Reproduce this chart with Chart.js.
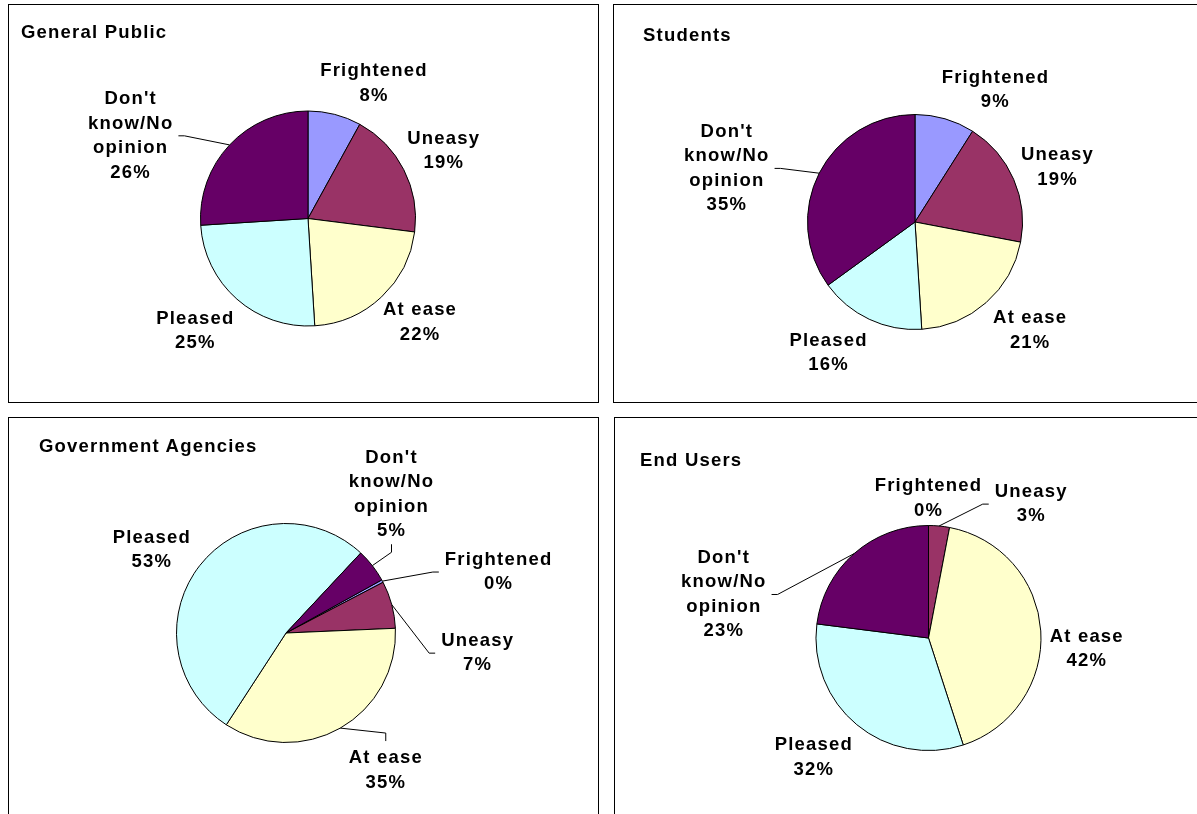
<!DOCTYPE html>
<html>
<head>
<meta charset="utf-8">
<script src="https://cdn.jsdelivr.net/npm/chart.js@4.4.0/dist/chart.umd.min.js"></script>
<style>
body { margin: 0; background: #fff; width: 1197px; height: 814px; overflow: hidden; position: relative; font-family: "Liberation Sans", Arial, sans-serif; }
.panel { position: absolute; border: 1px solid #000; box-sizing: border-box; }
.title { position: absolute; font-weight: bold; font-size: 18.5px; line-height: 20px; letter-spacing: 1.2px; white-space: nowrap; color: #000; }
canvas { position: absolute; }
</style>
</head>
<body>
<script>
// categories and values (percent)
var categories = ['Frightened', 'Uneasy', 'At ease', 'Pleased', "Don't know/No opinion"];
var generalPublic = [8, 19, 22, 25, 26];
var students = [9, 19, 21, 16, 35];
var governmentAgencies = [0.4, 7, 35, 53, 5];   // frightened shows as a thin sliver, labelled 0%
var endUsers = [0, 3, 42, 32, 23];
var titles = ['General Public', 'Students', 'Government Agencies', 'End Users'];
var sliceColors = ['#9999FF', '#993366', '#FFFFCC', '#CCFFFF', '#660066'];

var LABEL_FONT = 'bold 18.5px "Liberation Sans", Arial, sans-serif';
var LINE = 24.5;

// layout: panel box, pie centre/radius, rotation, label placement [angle from north, radius factor, leader side]
var panels = [
    { values: generalPublic, box: [8, 4, 591, 399], cx: 308, cy: 218.5, r: 108, rotation: 0, title: [21, 21.5],
      labels: [[26, 1.40], [63.6, 1.41], [132.8, 1.42], [225.1, 1.48], [295, 1.82, 'r']] },
    { values: students, box: [613, 4, 700, 399], cx: 915, cy: 222, r: 108, rotation: 0, title: [643, 25],
      labels: [[31.3, 1.44], [69, 1.42], [133.2, 1.47], [213.4, 1.46], [285.9, 1.82, 'r']] },
    { values: governmentAgencies, box: [8, 417, 591, 500], cx: 286, cy: 633, r: 110, rotation: 61, title: [39, 435.5],
      labels: [[74, 2.02, 'l'], [96, 1.76, 'l'], [144, 1.55, 't'], [301.7, 1.44], [37.3, 1.59, 'b']] },
    { values: endUsers, box: [614, 417, 700, 500], cx: 928.5, cy: 638, r: 113, rotation: 0, title: [640, 450],
      labels: [[0, 1.24], [37.5, 1.5, 'l'], [94, 1.41], [223.9, 1.47], [282, 1.86, 'r']] }
];

function wrapText(ctx, text, maxWidth) {
    var words = text.split(' ');
    var lines = [];
    var cur = '';
    words.forEach(function (w) {
        var test = cur ? cur + ' ' + w : w;
        if (cur && ctx.measureText(test).width > maxWidth) {
            lines.push(cur);
            cur = w;
        } else {
            cur = test;
        }
    });
    if (cur) lines.push(cur);
    return lines;
}

function drawLabels(chart, layout) {
    var ctx = chart.ctx;
    var arcs = chart.getDatasetMeta(0).data;
    var values = chart.data.datasets[0].data;
    ctx.save();
    ctx.font = LABEL_FONT;
    ctx.letterSpacing = '1.2px';
    ctx.fillStyle = '#000';
    ctx.strokeStyle = '#000';
    ctx.lineWidth = 1;
    ctx.textAlign = 'center';
    ctx.textBaseline = 'middle';
    arcs.forEach(function (arc, i) {
        var L = layout[i];
        var a = (L[0] - 90) * Math.PI / 180;
        var x = arc.x + Math.cos(a) * arc.outerRadius * L[1];
        var y = arc.y + Math.sin(a) * arc.outerRadius * L[1];
        var lines = wrapText(ctx, chart.data.labels[i], 90).concat([Math.round(values[i]) + '%']);
        var w = 0;
        lines.forEach(function (t) { w = Math.max(w, ctx.measureText(t).width); });
        var first = y - (lines.length - 1) * LINE / 2;
        lines.forEach(function (t, k) { ctx.fillText(t, x, first + k * LINE); });

        if (L[2]) {
            // leader line from the slice edge to the label
            var mid = (arc.startAngle + arc.endAngle) / 2;
            var ex = arc.x + Math.cos(mid) * arc.outerRadius;
            var ey = arc.y + Math.sin(mid) * arc.outerRadius;
            var end, elbow;
            if (L[2] === 'l') {
                end = [x - w / 2 - 6, y]; elbow = [end[0] - 6, y];
            } else if (L[2] === 'r') {
                end = [x + w / 2 + 5, y]; elbow = [end[0] + 6, y];
            } else if (L[2] === 't') {
                end = [x, first - 9 - 8]; elbow = [x, end[1] - 8];
            } else {
                end = [x, first + (lines.length - 1) * LINE + 9 + 4]; elbow = [x, end[1] + 8];
            }
            ctx.beginPath();
            ctx.moveTo(ex, ey);
            ctx.lineTo(elbow[0], elbow[1]);
            ctx.lineTo(end[0], end[1]);
            ctx.stroke();
        }
    });
    ctx.restore();
}

panels.forEach(function (p, n) {
    var div = document.createElement('div');
    div.className = 'panel';
    div.style.left = p.box[0] + 'px';
    div.style.top = p.box[1] + 'px';
    div.style.width = p.box[2] + 'px';
    div.style.height = p.box[3] + 'px';
    document.body.appendChild(div);

    // canvas covers the inside of the panel (clipped to the page)
    var x0 = p.box[0] + 1, y0 = p.box[1] + 1;
    var w = Math.min(p.box[2] - 2, 1197 - x0);
    var h = Math.min(p.box[3] - 2, 814 - y0);
    var canvas = document.createElement('canvas');
    canvas.width = w;
    canvas.height = h;
    canvas.style.left = x0 + 'px';
    canvas.style.top = y0 + 'px';
    document.body.appendChild(canvas);

    var t = document.createElement('div');
    t.className = 'title';
    t.textContent = titles[n];
    t.style.left = p.title[0] + 'px';
    t.style.top = p.title[1] + 'px';
    document.body.appendChild(t);

    new Chart(canvas, {
        type: 'pie',
        data: {
            labels: categories,
            datasets: [{
                data: p.values,
                backgroundColor: sliceColors,
                borderColor: '#000',
                borderWidth: 1
            }]
        },
        options: {
            responsive: false,
            animation: false,
            devicePixelRatio: 1,
            rotation: p.rotation,
            layout: {
                padding: {
                    left: p.cx - p.r - x0,
                    top: p.cy - p.r - y0,
                    right: w - (p.cx + p.r - x0),
                    bottom: h - (p.cy + p.r - y0)
                }
            },
            plugins: {
                legend: { display: false },
                tooltip: { enabled: false }
            }
        },
        plugins: [{
            id: 'pieLabels' + n,
            afterDraw: function (chart) { drawLabels(chart, p.labels); }
        }]
    });
});
</script>
</body>
</html>
